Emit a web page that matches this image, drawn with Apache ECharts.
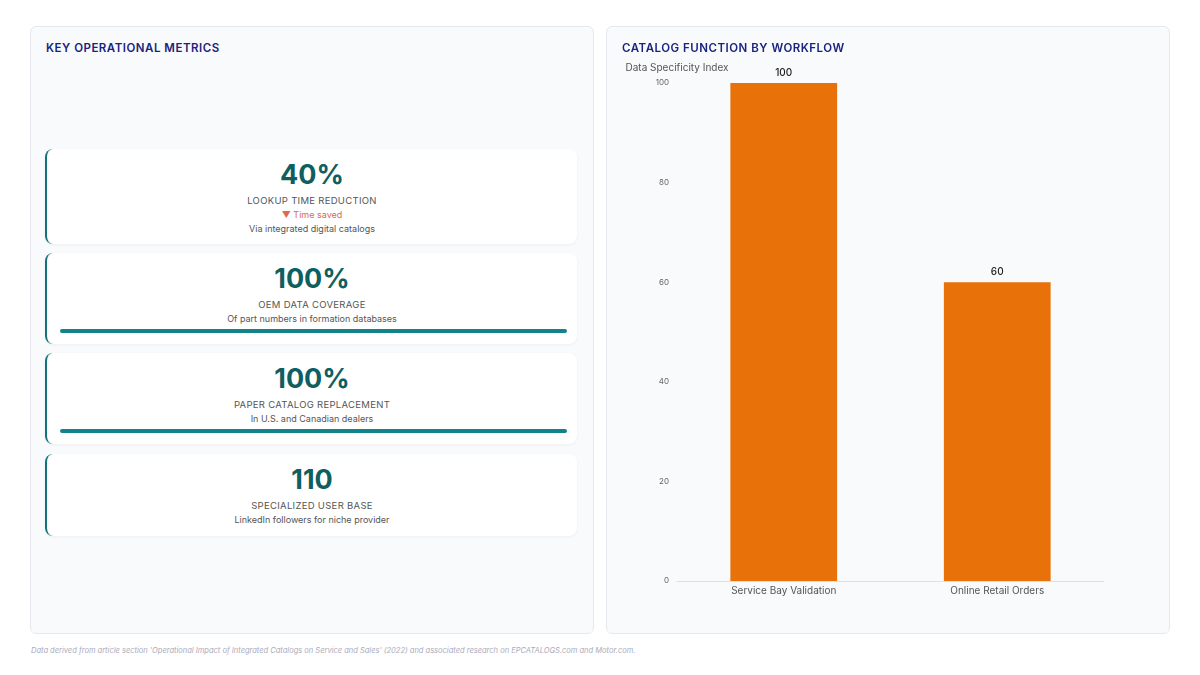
<!DOCTYPE html>
<html>
<head>
<meta charset="utf-8">
<script src="https://cdn.jsdelivr.net/npm/echarts@6/dist/echarts.min.js"></script>
<style>
body { margin: 0; width: 1200px; height: 675px; background: #fff; font-family: Inter, "Noto Sans", sans-serif; position: relative; overflow: hidden; }
.panel { position: absolute; top: 26px; height: 608px; background: #f8fafc; border: 1px solid #e5e9ef; border-radius: 6px; box-sizing: border-box; }
.title { position: absolute; left: 15px; top: 14px; font-size: 11.5px; font-weight: 600; letter-spacing: 0.5px; color: #1a237e; }
.card { position: absolute; left: 14px; width: 532px; background: #fff; border-left: 2px solid #12727a; border-radius: 8px; box-shadow: 0 1px 3px rgba(0,0,0,0.05); text-align: center; box-sizing: border-box; }
.val { font-size: 27px; font-weight: 700; color: #0f5e60; margin-top: 11px; line-height: 30px; }
.lab { font-size: 9.5px; color: #555; letter-spacing: 0.3px; margin-top: 5px; line-height: 12px; }
.trend { font-size: 9px; color: #e0684c; margin-top: 2px; line-height: 12px; }
.sub { font-size: 9px; color: #555; margin-top: 2px; line-height: 12px; }
.bar { position: absolute; left: 13px; right: 10px; height: 4px; border-radius: 2px; background: #12838a; }
#chart { position: absolute; left: 0; top: 0; width: 563px; height: 608px; }
.foot { position: absolute; left: 31px; top: 646px; font-size: 7.5px; font-style: italic; color: #aab; }
</style>
</head>
<body>
<div class="panel" style="left:30px;width:564px;">
  <div class="title">KEY OPERATIONAL METRICS</div>
  <div id="cards"></div>
</div>
<div class="panel" style="left:606px;width:564px;">
  <div id="chart"></div>
  <div class="title">CATALOG FUNCTION BY WORKFLOW</div>
</div>
<div class="foot">Data derived from article section 'Operational Impact of Integrated Catalogs on Service and Sales' (2022) and associated research on EPCATALOGS.com and Motor.com.</div>
<script>
const metricValues = ["40%", "100%", "100%", "110"];
const metricLabels = ["LOOKUP TIME REDUCTION", "OEM DATA COVERAGE", "PAPER CATALOG REPLACEMENT", "SPECIALIZED USER BASE"];
const metricTrends = ["▼ Time saved", "", "", ""];
const metricSubs = ["Via integrated digital catalogs", "Of part numbers in formation databases", "In U.S. and Canadian dealers", "LinkedIn followers for niche provider"];
const metricBars = [false, true, true, false];

const categories = ["Service Bay Validation", "Online Retail Orders"];
const specificity = [100, 60];

const tops = [122, 226, 326, 427];
const heights = [95, 91, 91, 82];
document.getElementById("cards").innerHTML = metricValues.map((v, i) => `
  <div class="card" style="top:${tops[i]}px;height:${heights[i]}px;">
    <div class="val">${v}</div>
    <div class="lab">${metricLabels[i]}</div>
    ${metricTrends[i] ? `<div class="trend">${metricTrends[i]}</div>` : ""}
    <div class="sub">${metricSubs[i]}</div>
    ${metricBars[i] ? `<div class="bar" style="top:${heights[i] - 15}px"></div>` : ""}
  </div>`).join("");

const myChart = echarts.init(document.getElementById("chart"));
myChart.setOption({
  grid: { left: 70, right: 66, top: 56, bottom: 54 },
  xAxis: {
    type: "category",
    data: categories,
    axisLine: { lineStyle: { color: "#e0e0e0" } },
    axisTick: { show: false },
    axisLabel: { color: "#555", fontSize: 10, margin: 5, fontFamily: "Inter" }
  },
  yAxis: {
    type: "value",
    min: 0, max: 100, interval: 20,
    name: "Data Specificity Index",
    nameTextStyle: { color: "#555", fontSize: 10, align: "center", fontFamily: "Inter" },
    nameGap: 10,
    splitLine: { show: false },
    axisLabel: { color: "#666", fontSize: 8, margin: 8, fontFamily: "Inter" }
  },
  series: [{
    type: "bar",
    data: specificity,
    barWidth: "50%",
    itemStyle: { color: "#e8710a" },
    label: { show: true, position: "top", color: "#222", fontSize: 10, fontWeight: 500, fontFamily: "Inter" }
  }]
});
</script>
</body>
</html>
